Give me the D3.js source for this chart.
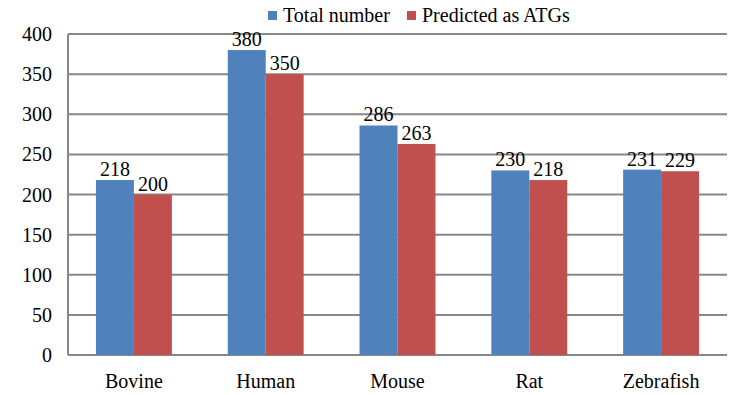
<!DOCTYPE html>
<html>
<head>
<meta charset="utf-8">
<script src="https://cdn.jsdelivr.net/npm/d3@7"></script>
<style>
  body { margin: 0; background: #fff; }
</style>
</head>
<body>
<svg width="752" height="395"></svg>
<script>
var species = ["Bovine", "Human", "Mouse", "Rat", "Zebrafish"];
var totalNumber = [218, 380, 286, 230, 231];
var predictedATG = [200, 350, 263, 218, 229];
var seriesNames = ["Total number", "Predicted as ATGs"];
var seriesColors = ["#4f81bd", "#c0504d"];
var yTicks = [0, 50, 100, 150, 200, 250, 300, 350, 400];

var svg = d3.select("svg")
    .attr("font-family", "'Liberation Serif', 'Times New Roman', 'DejaVu Serif', serif");
var plotLeft = 68, plotRight = 727, plotTop = 34, plotBottom = 355;

var x = d3.scaleBand().domain(species).range([plotLeft, plotRight]).padding(0);
var y = d3.scaleLinear().domain([0, 400]).range([plotBottom, plotTop]);
var barW = x.bandwidth() * 0.288;

// gridlines
svg.append("g").selectAll("line")
    .data(yTicks)
    .enter().append("line")
    .attr("x1", plotLeft).attr("x2", plotRight)
    .attr("y1", d => y(d)).attr("y2", d => y(d))
    .style("stroke", "#888").style("stroke-width", 2);

// left axis line
svg.append("line")
    .attr("x1", plotLeft).attr("x2", plotLeft).attr("y1", plotTop).attr("y2", plotBottom)
    .style("stroke", "#888").style("stroke-width", 2);

// y labels
svg.append("g").selectAll("text")
    .data(yTicks)
    .enter().append("text")
    .attr("x", 52).attr("y", d => y(d) + 7)
    .attr("text-anchor", "end")
    .style("font-size", "20px")
    .text(d => d);

var rows = species.map((s, i) => ({ s: s, vals: [totalNumber[i], predictedATG[i]] }));

var groups = svg.append("g").selectAll("g")
    .data(rows)
    .enter().append("g");

groups.selectAll("rect")
    .data(d => d.vals.map((v, j) => ({ s: d.s, v: v, j: j })))
    .enter().append("rect")
    .attr("x", d => x(d.s) + x.bandwidth() / 2 - barW + d.j * barW)
    .attr("width", barW)
    .attr("y", d => y(d.v))
    .attr("height", d => plotBottom - y(d.v))
    .style("fill", d => seriesColors[d.j]);

groups.selectAll("text.val")
    .data(d => d.vals.map((v, j) => ({ s: d.s, v: v, j: j })))
    .enter().append("text")
    .attr("class", "val")
    .attr("x", d => x(d.s) + x.bandwidth() / 2 - barW / 2 + d.j * barW)
    .attr("y", d => y(d.v) - 4)
    .attr("text-anchor", "middle")
    .style("font-size", "20px")
    .text(d => d.v);

// category labels
svg.append("g").selectAll("text")
    .data(species)
    .enter().append("text")
    .attr("x", d => x(d) + x.bandwidth() / 2)
    .attr("y", 388)
    .attr("text-anchor", "middle")
    .style("font-size", "20px")
    .text(d => d);

// legend
var legendX = [268, 407];
var legend = svg.append("g").selectAll("g")
    .data(seriesNames)
    .enter().append("g")
    .attr("transform", (d, i) => "translate(" + legendX[i] + ",0)");
legend.append("rect")
    .attr("x", 0).attr("y", 11).attr("width", 9).attr("height", 9)
    .style("fill", (d, i) => seriesColors[i]);
legend.append("text")
    .attr("x", 15).attr("y", 22)
    .style("font-size", "20px")
    .text(d => d);
</script>
</body>
</html>
